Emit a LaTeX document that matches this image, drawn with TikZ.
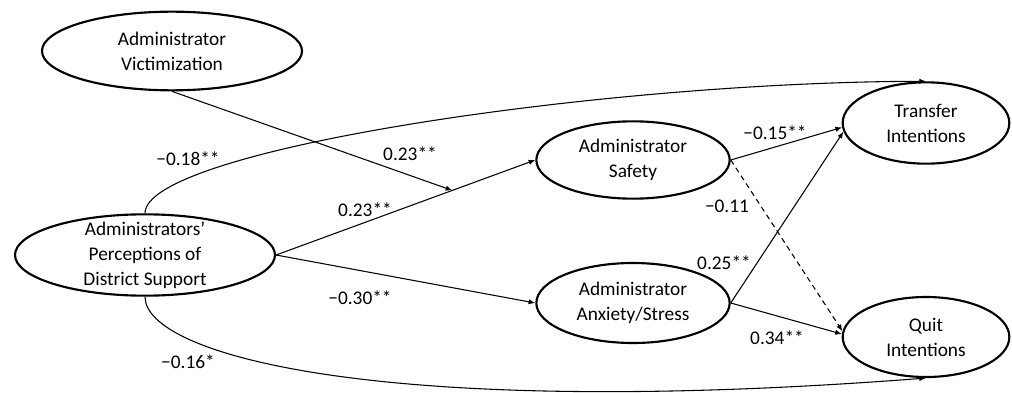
\documentclass[tikz,border=0pt]{standalone}
\usepackage{fontspec}
\setmainfont{Carlito}
\usetikzlibrary{shapes.geometric,arrows.meta}
\begin{document}
\begin{tikzpicture}[x=0.75pt,y=-0.75pt,
  every node/.style={font=\fontsize{14.5}{18.75}\selectfont},
  var/.style={draw, ellipse, line width=1.6pt, inner sep=0pt},
  vtext/.style={align=center, inner sep=0pt},
  conn/.style={line width=0.8pt, -{Latex[length=5pt,width=4pt]}},
  lab/.style={inner sep=1pt}]
\useasboundingbox (0,0) rectangle (1012,392);
\node[var, minimum width=195pt, minimum height=59pt,
  label={[vtext]center:Administrator\\Victimization}] (V) at (172,51) {};
\node[var, minimum width=195pt, minimum height=61pt,
  label={[vtext]center:Administrators’\\Perceptions of\\District Support}] (P) at (145,255) {};
\node[var, minimum width=145pt, minimum height=58pt,
  label={[vtext]center:Administrator\\Safety}] (S) at (633,160) {};
\node[var, minimum width=145pt, minimum height=60pt,
  label={[vtext]center:Administrator\\Anxiety/Stress}] (A) at (633,303) {};
\node[var, minimum width=125pt, minimum height=61pt,
  label={[vtext]center:Transfer\\Intentions}] (T) at (926,123) {};
\node[var, minimum width=125pt, minimum height=60pt,
  label={[vtext]center:Quit\\Intentions}] (Q) at (926,337) {};
% paths
\draw[conn] (P.east) -- (S.west) coordinate[pos=0.68] (m);
\draw[conn] (V.south) -- (m);
\draw[conn] (P.east) -- (A.west);
\draw[conn] (S.east) -- (T.183);
\draw[conn, dash pattern=on 4pt off 3pt] (S.east) -- (Q.176);
\draw[conn] (A.east) -- (T.186);
\draw[conn] (A.east) -- (Q.178);
\draw[conn] (P.north) .. controls (145,150) and (600,82) .. (T.north);
\draw[conn] (P.south) .. controls (145,355) and (380,420) .. (Q.south);
% labels
\node[lab] (l1) at (188,159) {−0.18**};
\node[lab] (l2) at (410,154) {0.23**};
\node[lab] (l3) at (365,210) {0.23**};
\node[lab] (l4) at (360,298) {−0.30**};
\node[lab] (l5) at (188,362) {−0.16*};
\node[lab] (l6) at (775,133) {−0.15**};
\node[lab] (l7) at (727,206) {−0.11};
\node[lab] (l8) at (724,263) {0.25**};
\node[lab] (l9) at (777,338) {0.34**};
\end{tikzpicture}
\end{document}
